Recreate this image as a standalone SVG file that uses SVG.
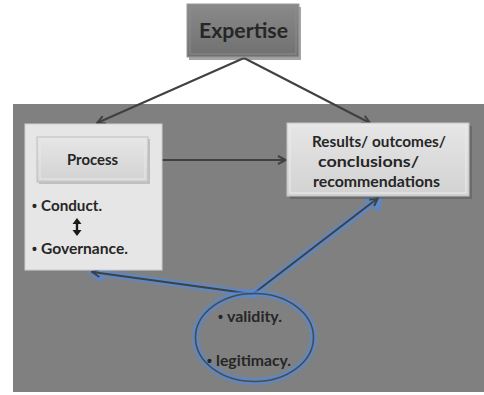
<svg xmlns="http://www.w3.org/2000/svg" width="484" height="395" viewBox="0 0 484 395">
<defs>
<style>
.t{font-family:Lato,"Liberation Sans",Arial,sans-serif;font-weight:bold;fill:#262626}
.b{font-family:"Liberation Sans",Arial,sans-serif;font-size:14px;font-weight:bold;fill:#262626}
.ln{stroke:#404040;stroke-width:2;fill:none}
.glow{stroke:#4f8be0;stroke-width:6;stroke-opacity:0.8;fill:none;stroke-linecap:round;stroke-linejoin:round}
</style>
<filter id="blur" x="-20%" y="-20%" width="140%" height="140%">
<feGaussianBlur stdDeviation="1.2"/>
</filter>
<linearGradient id="gE" x1="0" y1="0" x2="0" y2="1">
<stop offset="0" stop-color="#8a8a8a"/><stop offset="1" stop-color="#707070"/>
</linearGradient>
<linearGradient id="gL" x1="0" y1="0" x2="0" y2="1">
<stop offset="0" stop-color="#e6e6e6"/><stop offset="1" stop-color="#d2d2d2"/>
</linearGradient>
<marker id="ah" viewBox="0 0 10 10" refX="9" refY="5" markerWidth="5" markerHeight="5" orient="auto">
<path d="M1,1 L9,5 L1,9" fill="none" stroke="#404040" stroke-width="2"/>
</marker>
</defs>
<rect width="484" height="395" fill="#ffffff"/>
<rect x="13" y="104" width="471" height="288" fill="#808080"/>

<g id="connectors">
<line class="ln" x1="244" y1="58" x2="97" y2="123" marker-end="url(#ah)"/>
<line class="ln" x1="244" y1="58" x2="370" y2="123" marker-end="url(#ah)"/>
<line class="ln" x1="148" y1="160" x2="286" y2="160" marker-end="url(#ah)"/>
<g id="blue-arrows">
<path class="glow" filter="url(#blur)" d="M253,294 L379,198 M379,198 L368,199 M379,198 L377,208"/>
<path class="glow" filter="url(#blur)" d="M253,294 L92,272 M92,272 L101,266 M92,272 L100,278"/>
<line class="ln" x1="253" y1="294" x2="378" y2="198" marker-end="url(#ah)"/>
<line class="ln" x1="253" y1="294" x2="92" y2="272" marker-end="url(#ah)"/>
</g>
</g>

<g id="expertise">
<rect x="189" y="7" width="112" height="53" fill="#4a4a4a" opacity="0.5"/>
<rect x="187" y="4" width="112" height="53" fill="url(#gE)" stroke="#9a9a9a" stroke-width="1"/>
<rect x="190" y="7" width="106" height="47" fill="none" stroke="#8c8c8c" stroke-width="1"/>
<text class="t" x="199" y="38" font-size="21" textLength="89" lengthAdjust="spacingAndGlyphs">Expertise</text>
</g>

<g id="process-panel">
<rect x="25" y="124" width="137" height="146" fill="#e6e6e6" stroke="#cfcfcf" stroke-width="1"/>
<text class="b" x="32" y="211">•</text>
<text class="t" x="41" y="211" font-size="15" textLength="61" lengthAdjust="spacingAndGlyphs">Conduct.</text>
<path d="M77,218 L81.5,224 L78.2,224 L78.2,230 L81.5,230 L77,236 L72.5,230 L75.8,230 L75.8,224 L72.5,224 Z" fill="#1a1a1a"/>
<text class="b" x="32" y="254">•</text>
<text class="t" x="41" y="254" font-size="15" textLength="87" lengthAdjust="spacingAndGlyphs">Governance.</text>
</g>

<g id="process">
<rect x="39" y="139" width="111" height="45" fill="#9a9a9a" opacity="0.5"/>
<rect x="37" y="137" width="111" height="45" fill="url(#gL)" stroke="#bdbdbd" stroke-width="1"/>
<rect x="40" y="140" width="105" height="39" fill="none" stroke="#e8e8e8" stroke-width="1"/>
<text class="t" x="67" y="165" font-size="15" textLength="51" lengthAdjust="spacingAndGlyphs">Process</text>
</g>

<g id="results">
<rect x="290" y="126" width="182" height="73" fill="#555" opacity="0.5"/>
<rect x="287" y="123" width="182" height="73" fill="url(#gL)" stroke="#c4c4c4" stroke-width="1"/>
<rect x="290" y="126" width="176" height="67" fill="none" stroke="#ececec" stroke-width="1"/>
<text class="t" x="312" y="147" font-size="15.5" textLength="134" lengthAdjust="spacingAndGlyphs">Results/ outcomes/</text>
<text class="t" x="318" y="167" font-size="15.5" textLength="101" lengthAdjust="spacingAndGlyphs">conclusions/</text>
<text class="t" x="313" y="187" font-size="15.5" textLength="127" lengthAdjust="spacingAndGlyphs">recommendations</text>
</g>

<g id="criteria">
<ellipse cx="254.5" cy="337.5" rx="59" ry="44" fill="none" stroke="#4f8be0" stroke-width="6" stroke-opacity="0.8" filter="url(#blur)"/>
<ellipse cx="254.5" cy="337.5" rx="59" ry="44" fill="none" stroke="#4a4a4a" stroke-width="1.6"/>
<text class="b" x="218" y="322">•</text>
<text class="t" x="227" y="322" font-size="15" textLength="55" lengthAdjust="spacingAndGlyphs">validity.</text>
<text class="b" x="207" y="366">•</text>
<text class="t" x="216" y="366" font-size="15" textLength="75" lengthAdjust="spacingAndGlyphs">legitimacy.</text>
</g>
</svg>
